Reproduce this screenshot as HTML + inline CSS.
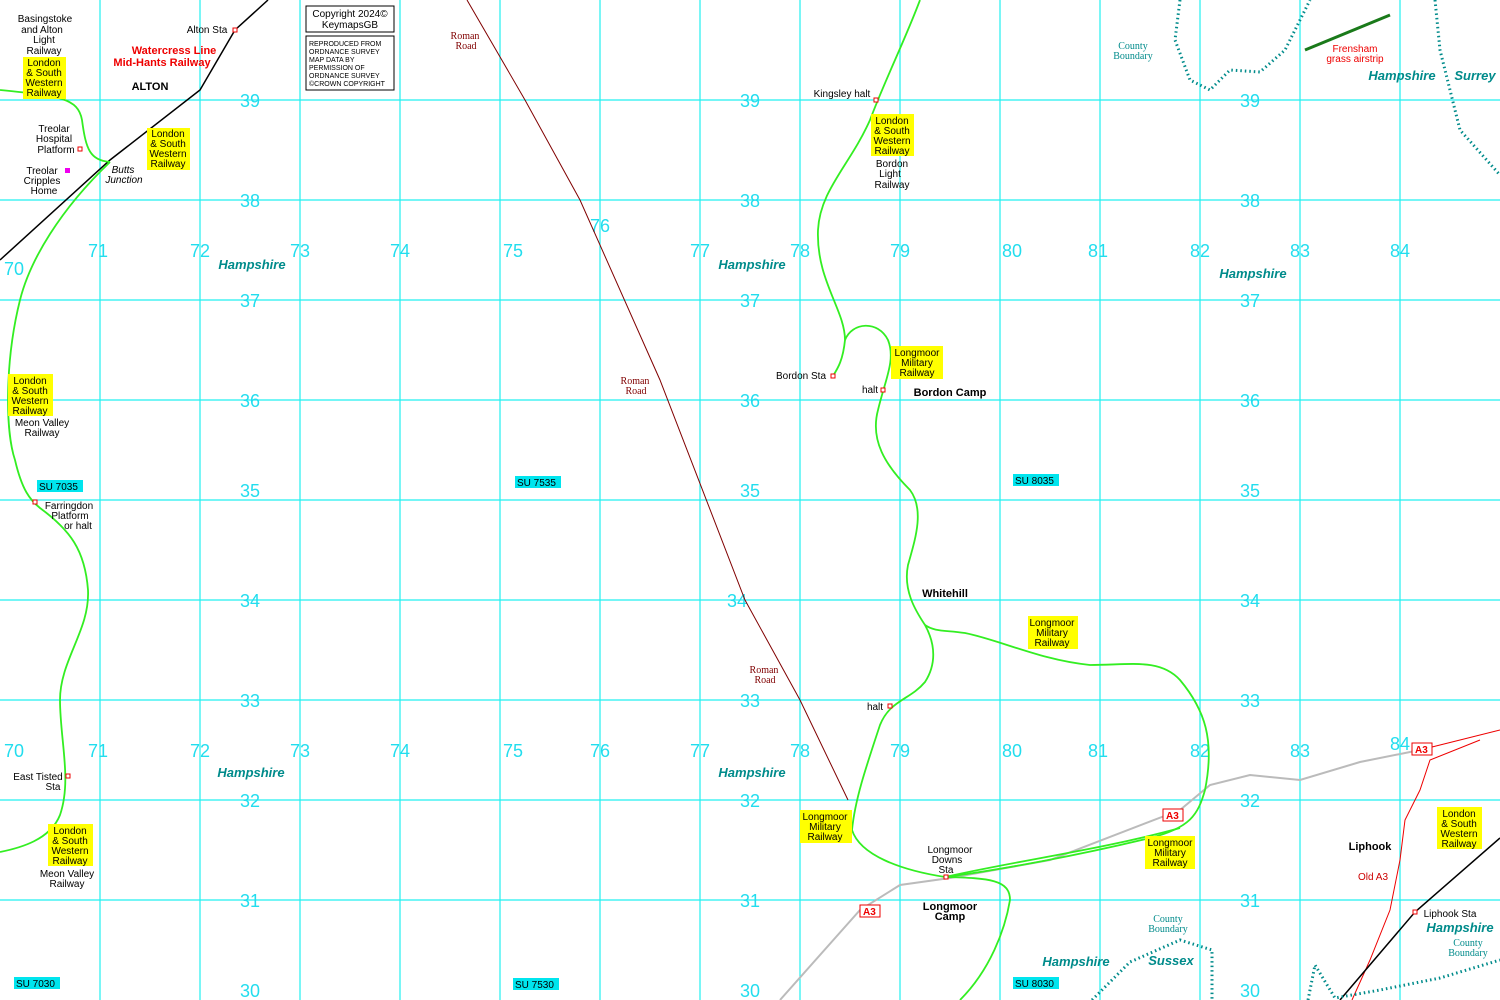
<!DOCTYPE html>
<html><head><meta charset="utf-8"><style>
html,body{margin:0;padding:0;background:#fff}
svg{display:block}
text{font-family:"Liberation Sans",Arial,sans-serif;font-size:10px}
text.g{fill:#22ddee;font-size:18px}
.y{fill:#ffff00}
.s text{font-family:"Liberation Serif",serif;fill:#800000;font-size:10px}
.h text{fill:#008b8b;font-weight:bold;font-style:italic;font-size:13px}
.cb text{font-family:"Liberation Serif",serif;fill:#008b8b;font-size:10px}
text.b{font-weight:bold;font-size:11px}
.small text{font-size:7px}
.a3 text{font-size:10px;font-weight:bold;fill:#e00}
</style></head><body>
<svg width="1500" height="1000" viewBox="0 0 1500 1000" xmlns="http://www.w3.org/2000/svg">
<g stroke="#22f0f0" stroke-width="1.2">
<line x1="100" y1="0" x2="100" y2="1000"/><line x1="200" y1="0" x2="200" y2="1000"/><line x1="300" y1="0" x2="300" y2="1000"/><line x1="400" y1="0" x2="400" y2="1000"/><line x1="500" y1="0" x2="500" y2="1000"/><line x1="600" y1="0" x2="600" y2="1000"/><line x1="700" y1="0" x2="700" y2="1000"/><line x1="800" y1="0" x2="800" y2="1000"/><line x1="900" y1="0" x2="900" y2="1000"/><line x1="1000" y1="0" x2="1000" y2="1000"/><line x1="1100" y1="0" x2="1100" y2="1000"/><line x1="1200" y1="0" x2="1200" y2="1000"/><line x1="1300" y1="0" x2="1300" y2="1000"/><line x1="1400" y1="0" x2="1400" y2="1000"/>
<line x1="0" y1="100" x2="1500" y2="100"/><line x1="0" y1="200" x2="1500" y2="200"/><line x1="0" y1="300" x2="1500" y2="300"/><line x1="0" y1="400" x2="1500" y2="400"/><line x1="0" y1="500" x2="1500" y2="500"/><line x1="0" y1="600" x2="1500" y2="600"/><line x1="0" y1="700" x2="1500" y2="700"/><line x1="0" y1="800" x2="1500" y2="800"/><line x1="0" y1="900" x2="1500" y2="900"/>
</g>
<g text-anchor="middle">
<text x="250" y="107" class="g">39</text><text x="750" y="107" class="g">39</text><text x="1250" y="107" class="g">39</text>
<text x="250" y="207" class="g">38</text><text x="750" y="207" class="g">38</text><text x="1250" y="207" class="g">38</text>
<text x="250" y="307" class="g">37</text><text x="750" y="307" class="g">37</text><text x="1250" y="307" class="g">37</text>
<text x="250" y="407" class="g">36</text><text x="750" y="407" class="g">36</text><text x="1250" y="407" class="g">36</text>
<text x="250" y="497" class="g">35</text><text x="750" y="497" class="g">35</text><text x="1250" y="497" class="g">35</text>
<text x="250" y="607" class="g">34</text><text x="737" y="607" class="g">34</text><text x="1250" y="607" class="g">34</text>
<text x="250" y="707" class="g">33</text><text x="750" y="707" class="g">33</text><text x="1250" y="707" class="g">33</text>
<text x="250" y="807" class="g">32</text><text x="750" y="807" class="g">32</text><text x="1250" y="807" class="g">32</text>
<text x="250" y="907" class="g">31</text><text x="750" y="907" class="g">31</text><text x="1250" y="907" class="g">31</text>
<text x="250" y="997" class="g">30</text><text x="750" y="997" class="g">30</text><text x="1250" y="997" class="g">30</text>
<text x="14" y="275" class="g">70</text><text x="98" y="257" class="g">71</text><text x="200" y="257" class="g">72</text><text x="300" y="257" class="g">73</text><text x="400" y="257" class="g">74</text><text x="513" y="257" class="g">75</text><text x="600" y="232" class="g">76</text><text x="700" y="257" class="g">77</text><text x="800" y="257" class="g">78</text><text x="900" y="257" class="g">79</text><text x="1012" y="257" class="g">80</text><text x="1098" y="257" class="g">81</text><text x="1200" y="257" class="g">82</text><text x="1300" y="257" class="g">83</text><text x="1400" y="257" class="g">84</text>
<text x="14" y="757" class="g">70</text><text x="98" y="757" class="g">71</text><text x="200" y="757" class="g">72</text><text x="300" y="757" class="g">73</text><text x="400" y="757" class="g">74</text><text x="513" y="757" class="g">75</text><text x="600" y="757" class="g">76</text><text x="700" y="757" class="g">77</text><text x="800" y="757" class="g">78</text><text x="900" y="757" class="g">79</text><text x="1012" y="757" class="g">80</text><text x="1098" y="757" class="g">81</text><text x="1200" y="757" class="g">82</text><text x="1300" y="757" class="g">83</text><text x="1400" y="750" class="g">84</text>
</g>
<polyline points="780,1000 860,910 900,885 950,878 1050,860 1180,810 1210,785 1250,775 1300,780 1360,762 1420,750" fill="none" stroke="#bbb" stroke-width="2"/>
<polyline points="1420,750 1460,740 1500,730" fill="none" stroke="#e00" stroke-width="1"/>
<polyline points="1480,740 1430,760 1420,790 1405,820 1400,860 1390,910 1370,960 1352,1000" fill="none" stroke="#e00" stroke-width="1"/>
<polyline points="467,0 525,100 580,200 660,380 745,600 800,700 848,800" fill="none" stroke="#800000" stroke-width="1"/>
<polyline points="0,260 110,160 200,90 235,30 268,0" fill="none" stroke="#000" stroke-width="1.5"/>
<polyline points="1340,1000 1415,912 1500,838" fill="none" stroke="#000" stroke-width="1.5"/>
<g fill="none" stroke="#33ee22" stroke-width="1.8">
<path d="M0,90 C60,96 78,98 82,120 C86,150 90,160 110,162"/>
<path d="M110,162 C60,210 30,260 20,300 C5,360 5,430 15,460 C22,490 30,500 40,508 C70,530 85,550 88,590 C90,630 60,660 60,700 C60,740 72,780 60,815 C50,840 20,848 0,852"/>
<path d="M920,0 C905,40 885,80 870,120 C850,165 820,190 818,230 C816,280 845,310 845,340 C843,360 838,368 833,376"/>
<path d="M845,340 C852,322 878,320 888,340 C896,360 885,380 878,410 C870,440 885,465 910,490 C925,510 915,540 908,565 C903,590 915,610 925,625 C936,645 936,665 925,682 C910,700 890,700 880,725 C865,770 855,800 852,830 C860,855 900,870 945,877 C990,878 1010,880 1010,900 C1005,930 990,970 960,1000"/>
<path d="M925,625 C935,632 945,630 965,633 C1000,640 1040,660 1090,665 C1130,665 1160,658 1180,680 C1205,710 1215,740 1205,790 C1198,815 1190,828 1150,838 C1080,855 1000,870 945,877"/>
<path d="M945,877 C1020,860 1100,850 1180,828"/>
</g>
<line x1="1305" y1="50" x2="1390" y2="15" stroke="#1a7a1a" stroke-width="3"/>
<g fill="none" stroke="#008b8b" stroke-width="3" stroke-dasharray="1.5,3">
<polyline points="1180,0 1175,40 1190,80 1210,90 1230,70 1260,72 1285,50 1300,20 1310,0"/>
<polyline points="1435,0 1440,50 1460,130 1500,175"/>
<polyline points="1092,1000 1130,962 1180,940 1212,950 1212,1000"/>
<polyline points="1308,1000 1315,965 1335,998 1380,990 1440,978 1500,960"/>
</g>
<g fill="#fff" stroke="#e00" stroke-width="1">
<rect x="233" y="28" width="4" height="4"/><rect x="78" y="147" width="4" height="4"/><rect x="874" y="98" width="4" height="4"/><rect x="831" y="374" width="4" height="4"/><rect x="881" y="388" width="4" height="4"/><rect x="33" y="500" width="4" height="4"/><rect x="888" y="704" width="4" height="4"/><rect x="66" y="774" width="4" height="4"/><rect x="944" y="875" width="4" height="4"/><rect x="1413" y="910" width="4" height="4"/>
</g>
<rect x="65" y="168" width="5" height="5" fill="#e0e"/>
<g class="y">
<rect x="23" y="57" width="43" height="42"/><rect x="147" y="128" width="43" height="42"/><rect x="871" y="114" width="43" height="42"/><rect x="891" y="346" width="52" height="33"/><rect x="8" y="374" width="45" height="42"/><rect x="1028" y="616" width="50" height="33"/><rect x="48" y="824" width="45" height="42"/><rect x="800" y="810" width="52" height="33"/><rect x="1145" y="836" width="50" height="33"/><rect x="1437" y="807" width="45" height="42"/>
</g>
<g fill="#000" text-anchor="middle">
<text x="44" y="66">London</text><text x="44" y="76">&amp; South</text><text x="44" y="86">Western</text><text x="44" y="96">Railway</text>
<text x="168" y="137">London</text><text x="168" y="147">&amp; South</text><text x="168" y="157">Western</text><text x="168" y="167">Railway</text>
<text x="892" y="124">London</text><text x="892" y="134">&amp; South</text><text x="892" y="144">Western</text><text x="892" y="154">Railway</text>
<text x="892" y="167">Bordon</text><text x="890" y="177">Light</text><text x="892" y="188">Railway</text>
<text x="917" y="356">Longmoor</text><text x="917" y="366">Military</text><text x="917" y="376">Railway</text>
<text x="30" y="384">London</text><text x="30" y="394">&amp; South</text><text x="30" y="404">Western</text><text x="30" y="414">Railway</text>
<text x="42" y="426">Meon Valley</text><text x="42" y="436">Railway</text>
<text x="1052" y="626">Longmoor</text><text x="1052" y="636">Military</text><text x="1052" y="646">Railway</text>
<text x="70" y="834">London</text><text x="70" y="844">&amp; South</text><text x="70" y="854">Western</text><text x="70" y="864">Railway</text>
<text x="67" y="877">Meon Valley</text><text x="67" y="887">Railway</text>
<text x="825" y="820">Longmoor</text><text x="825" y="830">Military</text><text x="825" y="840">Railway</text>
<text x="1170" y="846">Longmoor</text><text x="1170" y="856">Military</text><text x="1170" y="866">Railway</text>
<text x="1459" y="817">London</text><text x="1459" y="827">&amp; South</text><text x="1459" y="837">Western</text><text x="1459" y="847">Railway</text>
<text x="45" y="22">Basingstoke</text><text x="42" y="33">and Alton</text><text x="44" y="43">Light</text><text x="44" y="54">Railway</text>
<text x="54" y="132">Treolar</text><text x="54" y="142">Hospital</text><text x="56" y="153">Platform</text>
<text x="42" y="174">Treolar</text><text x="42" y="184">Cripples</text><text x="44" y="194">Home</text>
<text x="69" y="509">Farringdon</text><text x="70" y="519">Platform</text><text x="78" y="529">or halt</text>
<text x="38" y="780">East Tisted</text><text x="53" y="790">Sta</text>
<text x="207" y="33">Alton Sta</text>
<text x="842" y="97">Kingsley halt</text>
<text x="801" y="379">Bordon Sta</text>
<text x="870" y="393">halt</text>
<text x="875" y="710">halt</text>
<text x="950" y="853">Longmoor</text><text x="947" y="863">Downs</text><text x="946" y="873">Sta</text>
<text x="1450" y="917">Liphook Sta</text>
<text x="150" y="90" class="b">ALTON</text>
<text x="950" y="396" class="b">Bordon Camp</text>
<text x="945" y="597" class="b">Whitehill</text>
<text x="950" y="910" class="b">Longmoor</text><text x="950" y="920" class="b">Camp</text>
<text x="1370" y="850" class="b">Liphook</text>
</g>
<text x="123" y="173" font-style="italic" text-anchor="middle">Butts</text><text x="124" y="183" font-style="italic" text-anchor="middle">Junction</text>
<text x="174" y="54" text-anchor="middle" fill="#e00" class="b">Watercress Line</text>
<text x="162" y="66" text-anchor="middle" fill="#e00" class="b">Mid-Hants Railway</text>
<text x="1355" y="52" text-anchor="middle" fill="#e00">Frensham</text><text x="1355" y="62" text-anchor="middle" fill="#e00">grass airstrip</text>
<text x="1373" y="880" text-anchor="middle" fill="#c00">Old A3</text>
<g class="s" text-anchor="middle">
<text x="465" y="39">Roman</text><text x="466" y="49">Road</text>
<text x="635" y="384">Roman</text><text x="636" y="394">Road</text>
<text x="764" y="673">Roman</text><text x="765" y="683">Road</text>
</g>
<g class="cb" text-anchor="middle">
<text x="1133" y="49">County</text><text x="1133" y="59">Boundary</text>
<text x="1168" y="922">County</text><text x="1168" y="932">Boundary</text>
<text x="1468" y="946">County</text><text x="1468" y="956">Boundary</text>
</g>
<g class="h" text-anchor="middle">
<text x="252" y="269">Hampshire</text><text x="752" y="269">Hampshire</text><text x="1253" y="278">Hampshire</text>
<text x="251" y="777">Hampshire</text><text x="752" y="777">Hampshire</text>
<text x="1402" y="80">Hampshire</text><text x="1475" y="80">Surrey</text>
<text x="1076" y="966">Hampshire</text><text x="1171" y="965">Sussex</text><text x="1460" y="932">Hampshire</text>
</g>
<g class="a3">
<rect x="860" y="905" width="20" height="12" fill="#fff" stroke="#e00"/><text x="863" y="915">A3</text>
<rect x="1163" y="809" width="20" height="12" fill="#fff" stroke="#e00"/><text x="1166" y="819">A3</text>
<rect x="1412" y="743" width="20" height="12" fill="#fff" stroke="#e00"/><text x="1415" y="753">A3</text>
</g>
<g fill="#00e5ee">
<rect x="37" y="480" width="46" height="12"/><rect x="515" y="476" width="46" height="12"/><rect x="1013" y="474" width="46" height="12"/>
<rect x="14" y="977" width="46" height="12"/><rect x="513" y="978" width="46" height="12"/><rect x="1013" y="977" width="46" height="12"/>
</g>
<g fill="#000">
<text x="39" y="490">SU 7035</text><text x="517" y="486">SU 7535</text><text x="1015" y="484">SU 8035</text>
<text x="16" y="987">SU 7030</text><text x="515" y="988">SU 7530</text><text x="1015" y="987">SU 8030</text>
</g>
<rect x="306" y="6" width="88" height="26" fill="#fff" stroke="#000"/>
<text x="350" y="17" text-anchor="middle">Copyright 2024©</text><text x="350" y="28" text-anchor="middle">KeymapsGB</text>
<rect x="306" y="36" width="88" height="54" fill="#fff" stroke="#000"/>
<g class="small" fill="#000"><text x="309" y="46">REPRODUCED FROM</text><text x="309" y="54">ORDNANCE SURVEY</text><text x="309" y="62">MAP DATA BY</text><text x="309" y="70">PERMISSION OF</text><text x="309" y="78">ORDNANCE SURVEY</text><text x="309" y="86">©CROWN COPYRIGHT</text></g>
</svg>
</body></html>
